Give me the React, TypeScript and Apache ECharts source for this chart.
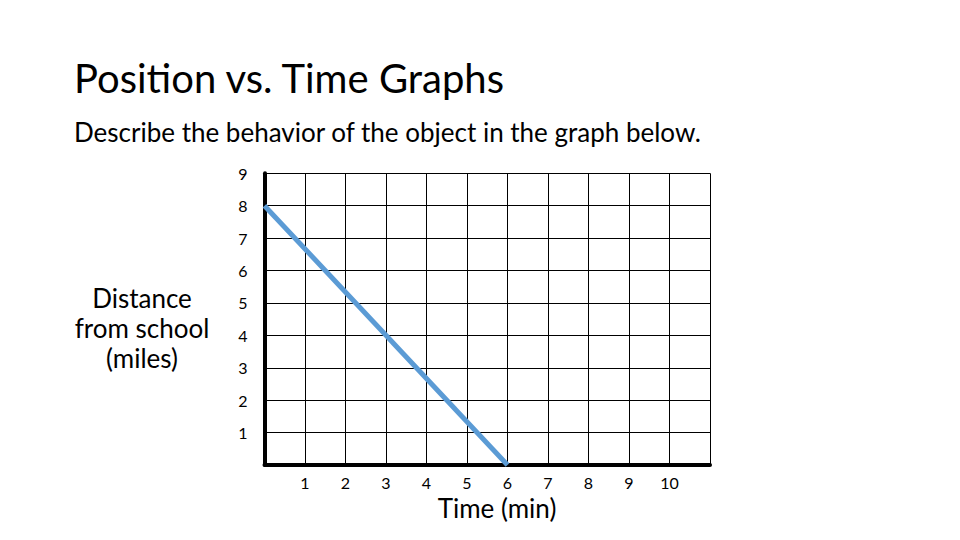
import React, { useEffect, useRef } from "react";
import * as echarts from "echarts";

const titleText = "Position vs. Time Graphs";
const subtitleText = "Describe the behavior of the object in the graph below.";
const yAxisTitle = ["Distance", "from school", "(miles)"];
const xAxisTitle = "Time (min)";

const timeValues = [0, 6];
const distanceValues = [8, 0];

const xMin = 0;
const xMax = 11;
const yMin = 0;
const yMax = 9;

const FONT = "Lato";

export default function App() {
  const ref = useRef<HTMLDivElement>(null);
  useEffect(() => {
    if (!ref.current) return;
    const chart = echarts.init(ref.current, undefined, { renderer: "svg" });
    chart.setOption({
      animation: false,
      backgroundColor: "#ffffff",
      grid: { left: 264.5, top: 173.3, width: 445.5, height: 291.7, containLabel: false },
      xAxis: {
        type: "value",
        min: xMin,
        max: xMax,
        interval: 1,
        axisLine: { show: true, onZero: false, lineStyle: { color: "#000", width: 4 } },
        axisTick: { show: false },
        splitLine: { show: true, lineStyle: { color: "#000", width: 1 } },
        axisLabel: {
          show: true,
          showMinLabel: false,
          showMaxLabel: false,
          margin: 10,
          color: "#000",
          fontFamily: FONT,
          fontSize: 16,
          lineHeight: 14,
          formatter: (v: number) => (v === xMin || v === xMax ? "" : String(v)),
        },
      },
      yAxis: {
        type: "value",
        min: yMin,
        max: yMax,
        interval: 1,
        axisLine: { show: true, onZero: false, lineStyle: { color: "#000", width: 4 } },
        axisTick: { show: false },
        splitLine: { show: true, lineStyle: { color: "#000", width: 1 } },
        axisLabel: {
          show: true,
          showMinLabel: false,
          margin: 17,
          color: "#000",
          fontFamily: FONT,
          fontSize: 16,
          padding: [4, 0, 0, 0],
          formatter: (v: number) => (v === yMin ? "" : String(v)),
        },
      },
      series: [
        {
          type: "line",
          data: timeValues.map((t, i) => [t, distanceValues[i]]),
          showSymbol: false,
          symbol: "none",
          lineStyle: { color: "#5B9BD5", width: 5 },
          z: 5,
        },
      ],
      graphic: [
        {
          type: "text",
          left: 74,
          top: 58,
          style: { text: titleText, fontFamily: FONT, fontSize: 40, fill: "#000" },
        },
        {
          type: "text",
          left: 74,
          top: 119,
          style: { text: subtitleText, fontFamily: FONT, fontSize: 26, fill: "#000" },
        },
        {
          type: "text",
          x: 142,
          y: 328,
          style: {
            text: yAxisTitle.join("\n"),
            fontFamily: FONT,
            fontSize: 26,
            lineHeight: 30,
            fill: "#000",
            align: "center",
            verticalAlign: "middle",
          },
        },
        {
          type: "text",
          x: 497,
          y: 508,
          style: {
            text: xAxisTitle,
            fontFamily: FONT,
            fontSize: 26,
            lineHeight: 24,
            fill: "#000",
            align: "center",
            verticalAlign: "middle",
          },
        },
      ],
    });
    return () => chart.dispose();
  }, []);
  return (
    <div
      ref={ref}
      style={{ position: "fixed", left: 0, top: 0, width: 960, height: 540, background: "#fff" }}
    />
  );
}
